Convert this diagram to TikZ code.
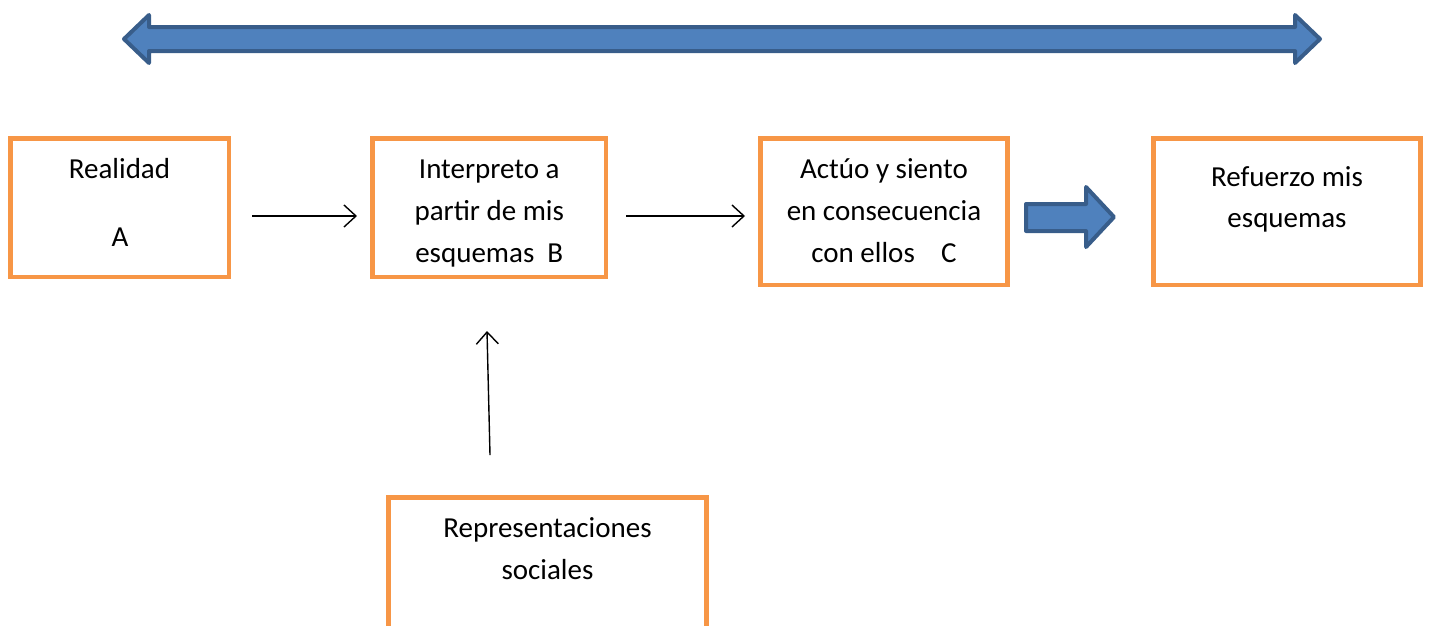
\documentclass[tikz,border=0pt]{standalone}
\usepackage{fontspec}
\setmainfont{Carlito}
\usetikzlibrary{arrows.meta}
\definecolor{boxorange}{HTML}{F79646}
\definecolor{arrowfill}{HTML}{4F81BD}
\definecolor{arrowline}{HTML}{385D8A}
\tikzset{
  box/.style={draw=boxorange, line width=4.5pt, rectangle, inner sep=0pt, fill=white},
  txt/.style={anchor=base, inner sep=0pt, font=\fontsize{29}{42}\selectfont},
  thin/.style={draw=black, line width=1.4pt, -{Straight Barb[length=12pt,width=22pt,line width=1.4pt]}},
  blockarrow/.style={fill=arrowfill, draw=arrowline, line width=4pt, line join=round}
}
\begin{document}
\begin{tikzpicture}[x=1pt,y=-1pt]
\useasboundingbox (0,0) rectangle (1431,625);
\clip (0,0) rectangle (1431,625);
% boxes
\node[box, minimum width=218.5pt, minimum height=138.5pt] (A) at (119.75,207.75) {};
\node[box, minimum width=233.5pt, minimum height=138.5pt] (B) at (489.25,207.75) {};
\node[box, minimum width=247pt, minimum height=146.5pt] (C) at (884,211.75) {};
\node[box, minimum width=267pt, minimum height=146.5pt] (D) at (1287,211.75) {};
\node[box, minimum width=318pt, minimum height=200pt] (E) at (547.5,597.5) {};
% texts
\node[txt] (tA1) at (119.5,178) {Realidad};
\node[txt] (tA2) at (120,246) {A};
\node[txt] (tB1) at (489.25,178) {Interpreto a};
\node[txt] (tB2) at (489.25,220) {partir de mis};
\node[txt] (tB3) at (489.25,262) {esquemas\ \ B};
\node[txt] (tC1) at (884,178) {Actúo y siento};
\node[txt] (tC2) at (884,220) {en consecuencia};
\node[txt] (tC3) at (884,262) {con ellos\ \ \ \ C};
\node[txt] (tD1) at (1287,186) {Refuerzo mis};
\node[txt] (tD2) at (1287,227) {esquemas};
\node[txt] (tE1) at (547.5,537) {Representaciones};
\node[txt] (tE2) at (547.5,579) {sociales};
% connector end points
\coordinate (ab1) at (252,216);
\coordinate (ab2) at (357,216);
\coordinate (bc1) at (626,216);
\coordinate (bc2) at (745,216);
\coordinate (eb1) at (490,455);
\coordinate (eb2) at (487,331);
\draw[thin] (ab1) -- (ab2);
\draw[thin] (bc1) -- (bc2);
\draw[thin] (eb1) -- (eb2);
% block arrows
\path[blockarrow] (124,39) -- (149,15) -- (149,27) -- (1295,27) -- (1295,15) -- (1320,39)
  -- (1295,63) -- (1295,51) -- (149,51) -- (149,63) -- cycle;
\path[blockarrow] (1026,204) -- (1086,204) -- (1086,187) -- (1114,217) -- (1086,247)
  -- (1086,231) -- (1026,231) -- cycle;
\end{tikzpicture}
\end{document}
